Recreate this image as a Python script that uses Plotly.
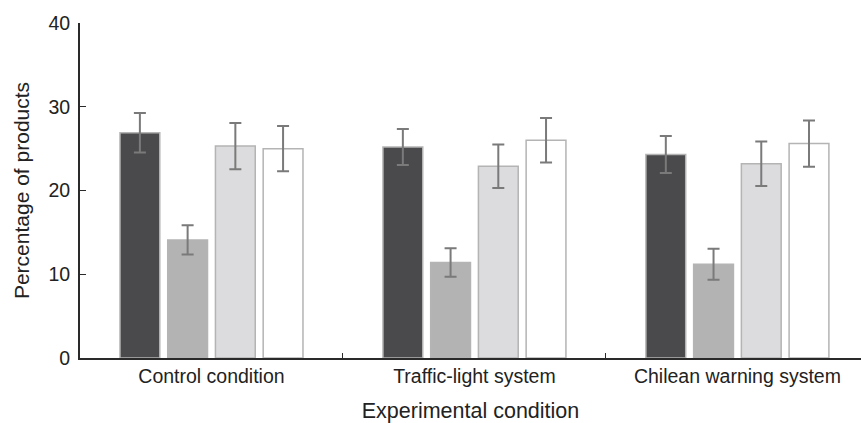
import plotly.graph_objects as go

categories = ["Control condition", "Traffic-light system", "Chilean warning system"]
series_names = ["Series 1", "Series 2", "Series 3", "Series 4"]
values = [
    [26.9, 25.2, 24.3],
    [14.1, 11.4, 11.2],
    [25.3, 22.9, 23.2],
    [25.0, 26.0, 25.6],
]
errors = [
    [2.35, 2.15, 2.2],
    [1.75, 1.7, 1.85],
    [2.75, 2.6, 2.65],
    [2.7, 2.65, 2.75],
]
fill_colors = ["#4a4a4c", "#b3b3b4", "#dcdcde", "#ffffff"]

fig = go.Figure()
for name, v, e, c in zip(series_names, values, errors, fill_colors):
    fig.add_trace(go.Bar(
        x=categories, y=v, name=name,
        marker=dict(color=c, line=dict(color="#b4b4b4", width=1.5)),
        error_y=dict(type="data", array=e, visible=True, color="#7a7a7a",
                     thickness=2, width=6),
    ))

fig.update_layout(
    width=861, height=423,
    barmode="group", bargap=0.274, bargroupgap=0.166,
    plot_bgcolor="white", paper_bgcolor="white",
    showlegend=False,
    margin=dict(l=80, r=0, t=23, b=65, autoexpand=False),
    font=dict(family="Liberation Sans, Arial, sans-serif", color="#222", size=18),
    xaxis=dict(
        range=[-0.5, 2.47], showline=True, linecolor="#2a2a2a", linewidth=2,
        ticks="inside", ticklen=5, tickcolor="#2a2a2a", tickwidth=1,
        tickson="boundaries", tickfont=dict(size=19.5), automargin=False,
        title=dict(text="Experimental condition", font=dict(size=21.5), standoff=17),
    ),
    yaxis=dict(
        range=[0, 40], tickvals=[0, 10, 20, 30, 40], showline=True,
        linecolor="#2a2a2a", linewidth=2, ticks="inside", ticklen=6,
        tickcolor="#2a2a2a", tickwidth=1, showgrid=False, zeroline=False,
        tickfont=dict(size=19.5), ticklabelstandoff=4, automargin=False,
        title=dict(text="Percentage of products", font=dict(size=21), standoff=13),
    ),
)

fig.write_html("out.html", config={"displayModeBar": False},
               post_script="document.body.style.margin='0';")
